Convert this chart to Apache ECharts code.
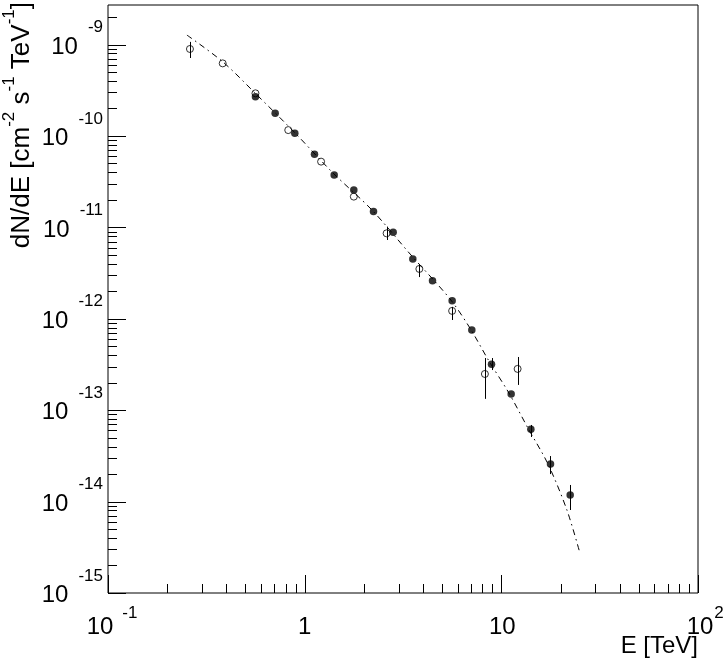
<!DOCTYPE html>
<html><head><meta charset="utf-8">
<script src="https://cdn.jsdelivr.net/npm/echarts@6/dist/echarts.min.js"></script>
<style>html,body{margin:0;padding:0;background:#fff}#c{width:727px;height:663px}</style>
</head><body><div id="c"></div>
<script>
// ---- data ----
const filledE = [0.562, 0.708, 0.891, 1.122, 1.413, 1.778, 2.239, 2.818, 3.548, 4.467, 5.623, 7.079, 8.913, 11.22, 14.13, 17.78, 22.39];
const filledFlux = [2.69e-10, 1.77e-10, 1.07e-10, 6.31e-11, 3.74e-11, 2.56e-11, 1.49e-11, 8.83e-12, 4.51e-12, 2.61e-12, 1.58e-12, 7.53e-13, 3.18e-13, 1.50e-13, 6.18e-14, 2.58e-14, 1.18e-14];
const filledErrLo = [null, null, null, null, null, null, null, null, null, null, null, null, 2.75e-13, null, 5.09e-14, 2.00e-14, 8.09e-15];
const filledErrHi = [null, null, null, null, null, null, null, null, null, null, null, null, 3.72e-13, null, 6.89e-14, 3.15e-14, 1.52e-14];

const openE = [0.261, 0.383, 0.562, 0.825, 1.212, 1.778, 2.61, 3.83, 5.62, 8.25, 12.1];
const openFlux = [8.95e-10, 6.23e-10, 2.93e-10, 1.16e-10, 5.24e-11, 2.17e-11, 8.61e-12, 3.51e-12, 1.22e-12, 2.49e-13, 2.83e-13];
const openErrLo = [7.13e-10, null, null, null, null, null, 7.28e-12, 2.86e-12, 9.70e-13, 1.33e-13, 1.89e-13];
const openErrHi = [1.07e-9, null, null, null, null, null, 1.02e-11, 3.88e-12, 1.35e-12, 3.72e-13, 3.82e-13];

const fitE = [0.252, 0.384, 0.5655, 0.8822, 1.393, 2.198, 3.471, 5.481, 6.925, 8.650, 10.93, 13.65, 17.26, 21.55, 25.09];
const fitFlux = [1.27e-9, 6.46e-10, 2.88e-10, 1.11e-10, 3.94e-11, 1.55e-11, 4.99e-12, 1.65e-12, 7.92e-13, 3.45e-13, 1.54e-13, 6.38e-14, 2.58e-14, 8.09e-15, 2.74e-15];

// axis ranges, tick positions and tick labels
const xMin = 0.1, xMax = 100;
const yMin = 1e-15, yMax = 2.71e-9;
const xDecades = [0.1, 1, 10, 100];
const yDecades = [1e-15, 1e-14, 1e-13, 1e-12, 1e-11, 1e-10, 1e-9];
const minorMult = [2, 3, 4, 5, 6, 7, 8, 9];
const xLabelBase = ['10', '1', '10', '10'];
const xLabelExp = ['-1', '', '', '2'];
const yLabelBase = ['10', '10', '10', '10', '10', '10', '10'];
const yLabelExp = ['-15', '-14', '-13', '-12', '-11', '-10', '-9'];
const yTitleParts = [['dN/dE [cm', 0], ['-2', 1], [' s', 0], ['-1', 1], [' TeV', 0], ['-1', 1], [']', 0]];
const xTitle = 'E [TeV]';

const FF = '"Liberation Sans", Arial, Helvetica, sans-serif';
const MAJ = 18, MIN = 9;
const BASE_FS = 24, EXP_FS = 17, TITLE_FS = 26, TITLE_SUP_FS = 17;

const mctx = document.createElement('canvas').getContext('2d');
function tw(t, fs) { mctx.font = fs + 'px ' + FF; return mctx.measureText(t).width; }

const xTicks = [];
xDecades.forEach(d => {
  xTicks.push([d, yMin, MAJ]);
  if (d < xMax) minorMult.forEach(m => xTicks.push([d * m, yMin, MIN]));
});
const yTicks = [];
yDecades.forEach(d => {
  yTicks.push([xMin, d, MAJ]);
  minorMult.forEach(m => { if (d * m <= yMax) yTicks.push([xMin, d * m, MIN]); });
});

const errData = [];
filledE.forEach((e, i) => { if (filledErrLo[i] != null) errData.push([e, filledErrLo[i], filledErrHi[i]]); });
openE.forEach((e, i) => { if (openErrLo[i] != null) errData.push([e, openErrLo[i], openErrHi[i]]); });

function txt(x, y, s, fs, align) {
  return { type: 'text', x: x, y: y, style: { text: s, fontSize: fs, fontFamily: FF, fill: '#000', align: align, verticalAlign: 'middle' } };
}

// y title as rotated pieces (reads bottom to top)
const titleChildren = [];
(function () {
  const widths = yTitleParts.map(p => tw(p[0], p[1] ? TITLE_SUP_FS : TITLE_FS));
  const total = widths.reduce((a, b) => a + b, 0);
  let y = 2 + total;
  yTitleParts.forEach((p, i) => {
    titleChildren.push({
      type: 'text', x: p[1] ? 9 : 22, y: y, rotation: Math.PI / 2,
      style: { text: p[0], fontSize: p[1] ? TITLE_SUP_FS : TITLE_FS, fontFamily: FF, fill: '#000', align: 'left', verticalAlign: 'middle' }
    });
    y -= widths[i];
  });
})();

const chart = echarts.init(document.getElementById('c'), null, { renderer: 'canvas' });
const option = {
  animation: false,
  backgroundColor: '#fff',
  grid: { left: 108, right: 29, top: 5, bottom: 70, show: true, borderColor: '#000', borderWidth: 1, backgroundColor: 'transparent' },
  xAxis: {
    type: 'log', logBase: 10, min: xMin, max: xMax,
    axisLine: { show: false }, axisTick: { show: false }, splitLine: { show: false }, axisLabel: { show: false }
  },
  yAxis: {
    type: 'log', logBase: 10, min: yMin, max: yMax,
    axisLine: { show: false }, axisTick: { show: false }, splitLine: { show: false }, axisLabel: { show: false }
  },
  graphic: [
    { type: 'group', children: titleChildren, z: 100 },
    {
      type: 'text', x: 698, y: 646, z: 100,
      style: { text: xTitle, align: 'right', verticalAlign: 'middle', fontSize: 24, fontFamily: FF, fill: '#000' }
    }
  ],
  series: [
    {
      type: 'line', name: 'fit', data: fitE.map((e, i) => [e, fitFlux[i]]),
      symbol: 'none', smooth: 0.3, z: 1, silent: true,
      lineStyle: { color: '#000', width: 1, type: [6, 4, 1.5, 4] }
    },
    {
      type: 'custom', name: 'err', data: errData, z: 2, silent: true, clip: false,
      renderItem: (params, api) => {
        const a = api.coord([api.value(0), api.value(1)]);
        const b = api.coord([api.value(0), api.value(2)]);
        const x = Math.round(a[0]) + 0.5;
        return { type: 'line', shape: { x1: x, y1: a[1], x2: x, y2: b[1] }, style: { stroke: '#000', lineWidth: 1 } };
      }
    },
    {
      type: 'scatter', name: 'open', data: openE.map((e, i) => [e, openFlux[i]]), z: 3,
      symbol: 'circle', symbolSize: 7,
      itemStyle: { color: 'rgba(255,255,255,0)', borderColor: '#000', borderWidth: 1 }
    },
    {
      type: 'scatter', name: 'filled', data: filledE.map((e, i) => [e, filledFlux[i]]), z: 4,
      symbol: 'circle', symbolSize: 7.5,
      itemStyle: { color: '#000' }
    },
    {
      type: 'custom', name: 'xticks', data: xTicks, z: 5, silent: true, clip: false,
      renderItem: (params, api) => {
        const p = api.coord([api.value(0), api.value(1)]);
        const x = Math.round(p[0]) + 0.5;
        return { type: 'line', shape: { x1: x, y1: p[1], x2: x, y2: p[1] - api.value(2) }, style: { stroke: '#000', lineWidth: 1 } };
      }
    },
    {
      type: 'custom', name: 'yticks', data: yTicks, z: 5, silent: true, clip: false,
      renderItem: (params, api) => {
        const p = api.coord([api.value(0), api.value(1)]);
        const y = Math.round(p[1]) + 0.5;
        return { type: 'line', shape: { x1: p[0], y1: y, x2: p[0] + api.value(2), y2: y }, style: { stroke: '#000', lineWidth: 1 } };
      }
    },
    {
      type: 'custom', name: 'xlabels', data: xDecades.map(d => [d, yMin]), z: 5, silent: true, clip: false,
      renderItem: (params, api) => {
        const i = params.dataIndex;
        const p = api.coord([api.value(0), api.value(1)]);
        const base = xLabelBase[i], ex = xLabelExp[i];
        const children = [];
        let cx = p[0];
        if (ex) {
          cx = p[0] + (ex === '-1' ? -8 : 2);
          const right = cx + tw(base, BASE_FS) / 2;
          children.push(txt(right + (ex === '-1' ? 9 : 1), p[1] + 20, ex, EXP_FS, 'left'));
        } else if (base === '10') {
          cx = p[0] + 1;
        }
        children.push(txt(cx, p[1] + 34, base, BASE_FS, 'center'));
        return { type: 'group', children: children };
      }
    },
    {
      type: 'custom', name: 'ylabels', data: yDecades.map(d => [xMin, d]), z: 5, silent: true, clip: false,
      renderItem: (params, api) => {
        const i = params.dataIndex;
        const p = api.coord([api.value(0), api.value(1)]);
        const ex = yLabelExp[i];
        const expRight = p[0] - 5;
        const baseRight = expRight - tw(ex, EXP_FS) - 10;
        return {
          type: 'group', children: [
            txt(expRight, p[1] - 17, ex, EXP_FS, 'right'),
            txt(baseRight, p[1] + 2.5, yLabelBase[i], BASE_FS, 'right')
          ]
        };
      }
    }
  ]
};
chart.setOption(option);
</script>
</body></html>
